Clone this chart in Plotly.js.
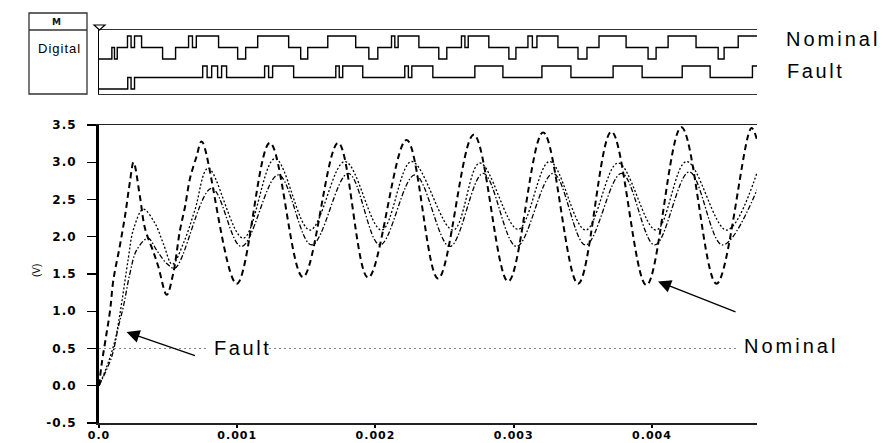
<!DOCTYPE html>
<html>
<head>
<meta charset="utf-8">
<script src="https://cdn.plot.ly/plotly-3.0.1.min.js"></script>
<style>
  html, body { margin: 0; padding: 0; background: #fff; }
  #chart { width: 883px; height: 443px; }
</style>
</head>
<body>
<div id="chart"></div>
<script>
// ---------------- DATA (time in ms, voltage in V) ----------------
// Analog: large-amplitude dashed trace
const dashT = [0, 0.02, 0.05, 0.08, 0.104, 0.15, 0.19, 0.224, 0.25, 0.296, 0.333, 0.393, 0.429, 0.49, 0.537, 0.586, 0.622, 0.658, 0.706, 0.743, 0.996, 1.236, 1.475, 1.73, 1.947, 2.225, 2.453, 2.711, 2.96, 3.213, 3.466, 3.707, 3.96, 4.213, 4.467, 4.72, 4.76];
const dashV = [0, 0.3, 0.65, 1.01, 1.42, 1.87, 2.3, 2.74, 3.0, 2.54, 2.11, 1.8, 1.6, 1.22, 1.51, 2.09, 2.4, 2.78, 3.08, 3.28, 1.37, 3.26, 1.46, 3.26, 1.45, 3.3, 1.44, 3.37, 1.4, 3.4, 1.37, 3.41, 1.35, 3.47, 1.37, 3.46, 3.3];
// Analog: dotted trace (upper small amplitude)
const dotT = [0, 0.055, 0.116, 0.152, 0.212, 0.248, 0.32, 0.405, 0.465, 0.53, 0.61, 0.694, 0.79, 1.043, 1.273, 1.526, 1.779, 2.044, 2.261, 2.562, 2.755, 3.032, 3.26, 3.52, 3.755, 4.03, 4.25, 4.54, 4.76];
const dotV = [0, 0.25, 0.61, 0.97, 1.71, 2.09, 2.37, 2.18, 1.91, 1.63, 1.91, 2.36, 2.92, 1.98, 3.05, 2.09, 3.01, 2.09, 3.01, 2.09, 2.99, 2.1, 3.01, 2.09, 2.99, 2.09, 3.01, 2.09, 2.86];
// Analog: dash-dot trace (lower small amplitude)
const ddT = [0, 0.092, 0.14, 0.176, 0.224, 0.272, 0.355, 0.417, 0.49, 0.55, 0.815, 1.03, 1.297, 1.538, 1.803, 2.032, 2.285, 2.538, 2.779, 3.02, 3.285, 3.52, 3.78, 4.02, 4.27, 4.51, 4.76];
const ddV = [0, 0.39, 0.79, 1.06, 1.51, 1.82, 1.98, 1.82, 1.64, 1.58, 2.65, 1.87, 2.83, 1.89, 2.85, 1.89, 2.83, 1.87, 2.85, 1.87, 2.85, 1.89, 2.85, 1.89, 2.87, 1.89, 2.63];

// Digital: transition times (ms) and logic level (0 low, 1 mid, 2 high)
const nomT = [0, 0.093, 0.112, 0.132, 0.206, 0.232, 0.257, 0.308, 0.460, 0.554, 0.648, 0.676, 0.704, 0.865, 1.003, 1.061, 1.148, 1.372, 1.459, 1.510, 1.655, 1.857, 1.952, 2.017, 2.116, 2.140, 2.164, 2.314, 2.458, 2.516, 2.622, 2.647, 2.671, 2.820, 2.965, 3.016, 3.103, 3.135, 3.168, 3.320, 3.465, 3.530, 3.617, 3.813, 3.972, 4.030, 4.117, 4.319, 4.479, 4.522, 4.624, 4.76];
const nomL = [0, 1, 0, 1, 2, 1, 2, 1, 0, 1, 2, 1, 2, 1, 0, 1, 2, 1, 0, 1, 2, 1, 0, 1, 2, 1, 2, 1, 0, 1, 2, 1, 2, 1, 0, 1, 2, 1, 2, 1, 0, 1, 2, 1, 0, 1, 2, 1, 0, 1, 2, 2];
const faultT = [0, 0.208, 0.232, 0.257, 0.750, 0.782, 0.815, 0.858, 0.887, 0.923, 1.198, 1.227, 1.256, 1.408, 1.713, 1.738, 1.763, 1.908, 2.212, 2.238, 2.263, 2.415, 2.719, 2.922, 3.204, 3.414, 3.719, 3.929, 4.219, 4.421, 4.727, 4.76];
const faultL = [0, 1, 0, 1, 2, 1, 2, 1, 2, 1, 2, 1, 2, 1, 2, 1, 2, 1, 2, 1, 2, 1, 2, 1, 2, 1, 2, 1, 2, 1, 2, 2];

// Axis ticks
const xTickVals = [0, 0.001, 0.002, 0.003, 0.004];
const xTickText = ["0.0", "0.001", "0.002", "0.003", "0.004"];
const yTickVals = [-0.5, 0, 0.5, 1, 1.5, 2, 2.5, 3, 3.5];
const yTickText = ["-0.5", "0.0", "0.5", "1.0", "1.5", "2.0", "2.5", "3.0", "3.5"];
const threshold = 0.5;
const xMax = 0.00476;
// Annotation pointers (time s, volts)
const faultArrow = [0.000199, 0.72];
const nominalArrow = [0.004044, 1.40];

// ---------------- LAYOUT HELPERS ----------------
const ML = 99, MR = 126, MT = 0, MB = 20, W = 883, H = 443;
const PW = W - ML - MR, PH = H - MT - MB;
const px2x = p => (p - ML) / PW;
const py2y = p => (H - MB - p) / PH;
const toS = a => a.map(v => v / 1000);

const nomBase = 35, fltBase = 5, levStep = 11.5;

const traces = [
  { x: toS(dashT), y: dashV, type: 'scatter', mode: 'lines', xaxis: 'x', yaxis: 'y',
    line: { color: '#000', width: 2, dash: '6px,4px', shape: 'spline', smoothing: 1 }, name: 'Nominal' },
  { x: toS(dotT), y: dotV, type: 'scatter', mode: 'lines', xaxis: 'x', yaxis: 'y',
    line: { color: '#000', width: 1.3, dash: '2px,2px', shape: 'spline', smoothing: 1 }, name: 'Fault A' },
  { x: toS(ddT), y: ddV, type: 'scatter', mode: 'lines', xaxis: 'x', yaxis: 'y',
    line: { color: '#000', width: 1.3, dash: '5px,2px,1.5px,2px', shape: 'spline', smoothing: 1 }, name: 'Fault B' },
  { x: toS(nomT), y: nomL.map(l => nomBase + levStep * l), type: 'scatter', mode: 'lines',
    xaxis: 'x2', yaxis: 'y2', line: { color: '#000', width: 1.4, shape: 'hv' }, name: 'Nominal digital' },
  { x: toS(faultT), y: faultL.map(l => fltBase + levStep * l), type: 'scatter', mode: 'lines',
    xaxis: 'x2', yaxis: 'y2', line: { color: '#000', width: 1.4, shape: 'hv' }, name: 'Fault digital' }
];

const tickFont = { family: 'DejaVu Sans, sans-serif', size: 12, color: '#000', weight: 'bold' };
const xTickFont = { family: 'DejaVu Sans, sans-serif', size: 11, color: '#000', weight: 'bold' };
const lblFont = s => ({ family: 'Liberation Sans, Arial, sans-serif', size: s, color: '#000' });

const layout = {
  width: W, height: H,
  margin: { l: ML, r: MR, t: MT, b: MB, pad: 0 },
  paper_bgcolor: '#fff', plot_bgcolor: '#fff',
  showlegend: false,
  xaxis: {
    domain: [0, 1], anchor: 'y', range: [0, xMax],
    showgrid: false, zeroline: false,
    showline: true, mirror: true, linecolor: '#222', linewidth: 1.5,
    ticks: 'outside', ticklen: 3, tickwidth: 2, tickcolor: '#000',
    tickvals: xTickVals, ticktext: xTickText, tickfont: xTickFont,
    ticklabelstandoff: -2
  },
  yaxis: {
    domain: [0, py2y(125)], anchor: 'x', range: [-0.5, 3.5],
    showgrid: false, zeroline: false,
    showline: true, linecolor: '#000', linewidth: 3,
    ticks: 'outside', ticklen: 9, tickwidth: 1.3, tickcolor: '#000',
    tickvals: yTickVals, ticktext: yTickText, tickfont: tickFont,
    ticklabelstandoff: 8
  },
  xaxis2: {
    domain: [0, 1], anchor: 'y2', matches: 'x', range: [0, xMax],
    showgrid: false, zeroline: false, showticklabels: false, ticks: '',
    showline: true, mirror: true, linecolor: '#333', linewidth: 1.3
  },
  yaxis2: {
    domain: [py2y(94), py2y(30)], anchor: 'x2', range: [0, 64],
    showgrid: false, zeroline: false, showticklabels: false, ticks: '',
    showline: true, linecolor: '#000', linewidth: 1.3
  },
  shapes: [
    { type: 'line', xref: 'paper', yref: 'y', x0: 0, x1: 1, y0: threshold, y1: threshold,
      line: { color: '#888', width: 1, dash: '2px,3px' }, layer: 'below' },
    { type: 'rect', xref: 'paper', yref: 'paper', x0: px2x(29), x1: px2x(87), y0: py2y(94), y1: py2y(13),
      line: { color: '#333', width: 1.3 } },
    { type: 'line', xref: 'paper', yref: 'paper', x0: px2x(29), x1: px2x(87), y0: py2y(30), y1: py2y(30),
      line: { color: '#333', width: 1.3 } },
    { type: 'path', xref: 'paper', yref: 'paper',
      path: `M${px2x(94)},${py2y(25)} L${px2x(105)},${py2y(25)} L${px2x(99.5)},${py2y(30)} Z`,
      line: { color: '#000', width: 1.2 } }
  ],
  annotations: [
    { xref: 'paper', yref: 'paper', x: px2x(56), y: py2y(22), text: '<b>M</b>', showarrow: false,
      xanchor: 'center', yanchor: 'middle', font: { family: 'DejaVu Sans, sans-serif', size: 9, color: '#111' } },
    { xref: 'paper', yref: 'paper', x: px2x(58.5), y: py2y(48), text: 'Digital', showarrow: false,
      xanchor: 'center', yanchor: 'middle', font: lblFont(13) },
    { xref: 'paper', yref: 'paper', x: px2x(784), y: py2y(39), text: 'Nominal', showarrow: false,
      xanchor: 'left', yanchor: 'middle', font: lblFont(20) },
    { xref: 'paper', yref: 'paper', x: px2x(785), y: py2y(71), text: 'Fault', showarrow: false,
      xanchor: 'left', yanchor: 'middle', font: lblFont(20) },
    { xref: 'paper', yref: 'paper', x: px2x(37), y: py2y(271), text: '(V)', showarrow: false,
      textangle: -90, xanchor: 'center', yanchor: 'middle', font: lblFont(10) },
    { xref: 'paper', yref: 'paper', x: px2x(208), y: py2y(348), text: 'Fault', showarrow: false,
      xanchor: 'left', yanchor: 'middle', bgcolor: '#fff', borderpad: 5, font: lblFont(20) },
    { xref: 'paper', yref: 'paper', x: px2x(738), y: py2y(346), text: 'Nominal', showarrow: false,
      xanchor: 'left', yanchor: 'middle', bgcolor: '#fff', borderpad: 5, font: lblFont(20) },
    { xref: 'x', yref: 'y', x: faultArrow[0], y: faultArrow[1], text: '', showarrow: true,
      ax: 70, ay: 24, arrowhead: 2, arrowsize: 2, arrowwidth: 1.3, arrowcolor: '#000', standoff: 0 },
    { xref: 'x', yref: 'y', x: nominalArrow[0], y: nominalArrow[1], text: '', showarrow: true,
      ax: 79, ay: 31, arrowhead: 2, arrowsize: 2, arrowwidth: 1.3, arrowcolor: '#000', standoff: 0 }
  ]
};

Plotly.newPlot('chart', traces, layout, { displayModeBar: false, staticPlot: true }).then(() => {
  document.querySelectorAll('.xtick text, .ytick text').forEach(t => { t.style.letterSpacing = '1px'; });
  // letter spacing [px] and whether the label is left-anchored (keep its left edge fixed)
  const spacing = { 'Nominal': [3, true], 'Fault': [2.6, true], 'Digital': [1, false] };
  document.querySelectorAll('.annotation-text').forEach(t => {
    const cfg = spacing[t.textContent];
    if (!cfg) return;
    const [s, leftAnchored] = cfg;
    t.style.letterSpacing = s + 'px';
    const ax = t.getAttribute('x');
    if (ax !== null) {
      const n = t.textContent.length;
      const shift = leftAnchored ? n * s / 2 : s / 2;
      t.setAttribute('x', parseFloat(ax) + shift);
    }
  });
});
</script>
</body>
</html>
